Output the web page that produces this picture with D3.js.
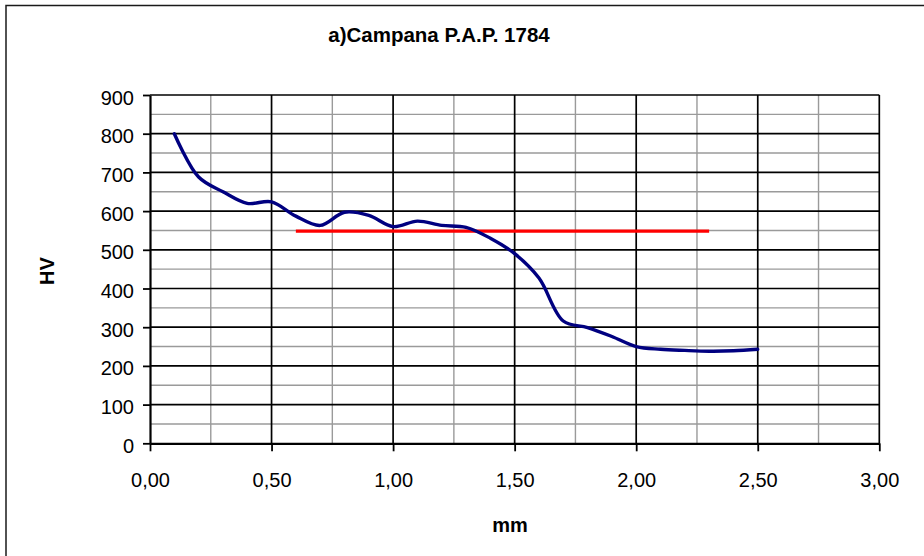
<!DOCTYPE html>
<html>
<head>
<meta charset="utf-8">
<script src="https://cdn.jsdelivr.net/npm/d3@7"></script>
<style>
  html, body { margin: 0; padding: 0; background: #fff; }
  svg { display: block; }
  text { font-family: "Liberation Sans", Arial, sans-serif; fill: #000; }
</style>
</head>
<body>
<svg id="chart" width="924" height="556"></svg>
<script>
// Hardness profile (HV) against depth (mm)
const depthMm = [0.1, 0.2, 0.3, 0.4, 0.5, 0.6, 0.7, 0.8, 0.9, 1.0, 1.1, 1.2, 1.3,
                 1.4, 1.5, 1.6, 1.7, 1.8, 1.9, 2.0, 2.1, 2.2, 2.3, 2.4, 2.5];
const hardnessHV = [800, 688, 650, 620, 624, 587, 563, 597, 589, 560, 574, 563, 558,
                    530, 490, 427, 316, 299, 276, 250, 243, 240, 238, 239, 243];

// Reference level
const refDepthMm = [0.6, 0.7, 0.8, 0.9, 1.0, 1.1, 1.2, 1.3, 1.4, 1.5, 1.6, 1.7,
                    1.8, 1.9, 2.0, 2.1, 2.2, 2.3];
const refHV = [548, 548, 548, 548, 548, 548, 548, 548, 548, 548, 548, 548,
               548, 548, 548, 548, 548, 548];

const xTicks = [0, 0.5, 1.0, 1.5, 2.0, 2.5, 3.0];
const xMinorTicks = [0.25, 0.75, 1.25, 1.75, 2.25, 2.75];
const yTicks = [0, 100, 200, 300, 400, 500, 600, 700, 800, 900];
const yMinorTicks = [50, 150, 250, 350, 450, 550, 650, 750, 850];

const titleText = "a)Campana P.A.P. 1784";
const xLabel = "mm";
const yLabel = "HV";

const svg = d3.select("#chart");
const plotLeft = 150, plotRight = 879.3, plotTop = 95, plotBottom = 443.3;

const x = d3.scaleLinear().domain([0, 3]).range([plotLeft, plotRight]);
const y = d3.scaleLinear().domain([0, 900]).range([plotBottom, plotTop]);
const fmt = v => d3.format(".2f")(v).replace(".", ",");

// outer frame
svg.append("rect")
  .attr("x", 6).attr("y", 5.5).attr("width", 940).attr("height", 560)
  .attr("fill", "#fff").attr("stroke", "#1a1a1a").attr("stroke-width", 1.5);

// minor grid (grey)
const g = svg.append("g");
g.selectAll(".vminor").data(xMinorTicks).join("line")
  .attr("x1", d => x(d)).attr("x2", d => x(d)).attr("y1", plotTop).attr("y2", plotBottom)
  .attr("stroke", "#9a9a9a").attr("stroke-width", 1.4);
g.selectAll(".hminor").data(yMinorTicks).join("line")
  .attr("x1", plotLeft).attr("x2", plotRight).attr("y1", d => y(d)).attr("y2", d => y(d))
  .attr("stroke", "#9a9a9a").attr("stroke-width", 1.4);

// major grid (black)
g.selectAll(".vmajor").data(xTicks.slice(1)).join("line")
  .attr("x1", d => x(d)).attr("x2", d => x(d)).attr("y1", plotTop).attr("y2", plotBottom)
  .attr("stroke", "#000").attr("stroke-width", 1.7);
g.selectAll(".hmajor").data(yTicks.slice(1)).join("line")
  .attr("x1", plotLeft).attr("x2", plotRight).attr("y1", d => y(d)).attr("y2", d => y(d))
  .attr("stroke", "#000").attr("stroke-width", 1.7);

// axes
const xAxis = d3.axisBottom(x).tickValues(xTicks).tickFormat(fmt).tickSize(8).tickSizeOuter(0).tickPadding(22);
const yAxis = d3.axisLeft(y).tickValues(yTicks).tickSize(7).tickSizeOuter(0).tickPadding(9);

const gx = svg.append("g").attr("transform", `translate(0,${plotBottom})`).call(xAxis);
const gy = svg.append("g").attr("transform", `translate(${plotLeft},0)`).call(yAxis);
[gx, gy].forEach(a => {
  a.select(".domain").attr("stroke", "#000").attr("stroke-width", 2.2);
  a.selectAll(".tick line").attr("stroke", "#000").attr("stroke-width", 1.8);
  a.selectAll(".tick text").attr("font-size", 20).attr("font-family", "Liberation Sans, Arial, sans-serif").attr("fill", "#000");
});
gy.selectAll(".tick text").attr("dy", "0.45em");
gx.selectAll(".tick text").attr("dy", "0.71em");

// series
const line = d3.line().x(d => x(d[0])).y(d => y(d[1])).curve(d3.curveCatmullRom.alpha(0.5));

svg.append("path")
  .datum(refDepthMm.map((d, i) => [d, refHV[i]]))
  .attr("d", d3.line().x(d => x(d[0])).y(d => y(d[1])))
  .attr("fill", "none").attr("stroke", "#ff0000").attr("stroke-width", 3.2);

svg.append("path")
  .datum(depthMm.map((d, i) => [d, hardnessHV[i]]))
  .attr("d", line)
  .attr("fill", "none").attr("stroke", "#000080").attr("stroke-width", 3.4)
  .attr("stroke-linejoin", "round").attr("stroke-linecap", "round");

// titles
svg.append("text").attr("x", 439).attr("y", 42).attr("text-anchor", "middle")
  .attr("font-size", 20.5).attr("font-weight", "bold").text(titleText);
svg.append("text").attr("x", 510).attr("y", 532).attr("text-anchor", "middle")
  .attr("font-size", 20).attr("font-weight", "bold").text(xLabel);
svg.append("text").attr("transform", "translate(54,271) rotate(-90)").attr("text-anchor", "middle")
  .attr("font-size", 20).attr("font-weight", "bold").text(yLabel);
</script>
</body>
</html>
